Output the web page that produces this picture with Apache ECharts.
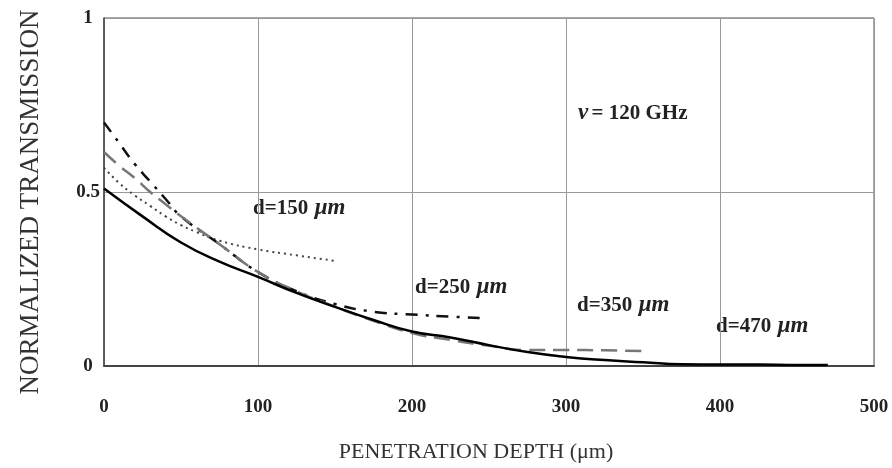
<!DOCTYPE html>
<html>
<head>
<meta charset="utf-8">
<script src="https://cdn.jsdelivr.net/npm/echarts@6/dist/echarts.min.js"></script>
<style>
  *{margin: 0; padding: 0;}
  html,body{width: 100%; height: 100%; background: #fff;}
  #chart{width: 892px; height: 468px;}
</style>
</head>
<body>
<div id="chart"></div>
<script>
// penetration depth (um) and normalized transmission, one pair of arrays per slab thickness
var depth150 = [0, 10, 20, 30, 40, 50, 60, 75, 100, 125, 150]
var trans150 = [0.57, 0.525, 0.49, 0.46, 0.43, 0.405, 0.385, 0.36, 0.335, 0.318, 0.302]

var depth250 = [0, 10, 20, 30, 40, 50, 75, 100, 125, 150, 175, 200, 225, 245]
var trans250 = [0.70, 0.64, 0.58, 0.53, 0.48, 0.43, 0.35, 0.27, 0.215, 0.178, 0.156, 0.148, 0.142, 0.138]

var depth350 = [0, 10, 20, 30, 40, 50, 75, 100, 125, 150, 175, 200, 225, 250, 275, 300, 325, 350]
var trans350 = [0.615, 0.575, 0.54, 0.50, 0.465, 0.43, 0.35, 0.27, 0.215, 0.17, 0.13, 0.095, 0.075, 0.058, 0.046, 0.046, 0.045, 0.043]

var depth470 = [0, 25, 50, 75, 100, 125, 150, 175, 200, 225, 250, 275, 300, 325, 350, 375, 400, 425, 450, 470]
var trans470 = [0.51, 0.43, 0.355, 0.30, 0.256, 0.21, 0.17, 0.132, 0.099, 0.082, 0.06, 0.04, 0.026, 0.017, 0.011, 0.005, 0.004, 0.004, 0.003, 0.003]

var xTicks = [0, 100, 200, 300, 400, 500]
var yTicks = [0, 0.5, 1]

var serif = '"Liberation Serif", "DejaVu Serif", serif'

function pairs(xs, ys) {
  var out = []
  for (var i = 0; i < xs.length; i++) {
    out.push([xs[i], ys[i]])
  }
  return out
}

function dLabel(text, left, top) {
  return {
    type: 'text',
    left: left,
    top: top,
    style: {
      text: '{a|' + text + '}  {b|μm}',
      rich: {
        a: { fontFamily: serif, fontWeight: 'bold', fontSize: 21, fill: '#222' },
        b: { fontFamily: serif, fontWeight: 'bold', fontStyle: 'italic', fontSize: 23, fill: '#222' }
      }
    }
  }
}

var chart = echarts.init(document.getElementById('chart'))
var options = {
  animation: false,
  grid: {
    left: 104,
    right: 18,
    top: 18,
    bottom: 102,
    show: true,
    borderColor: '#555',
    borderWidth: 1
  },
  xAxis: {
    type: 'value',
    min: xTicks[0],
    max: xTicks[xTicks.length - 1],
    interval: 100,
    name: 'PENETRATION DEPTH (μm)',
    nameLocation: 'middle',
    nameGap: 75,
    nameTextStyle: { fontFamily: serif, fontSize: 22, color: '#333', padding: [0, 26, 0, 0] },
    axisLine: { show: true, lineStyle: { color: '#444', width: 2 } },
    axisTick: { show: false },
    axisLabel: {
      margin: 32,
      fontFamily: serif,
      fontWeight: 'bold',
      fontSize: 19,
      color: '#222'
    },
    splitLine: { show: true, lineStyle: { color: '#999', width: 1 } }
  },
  yAxis: {
    type: 'value',
    min: yTicks[0],
    max: yTicks[yTicks.length - 1],
    interval: 0.5,
    name: 'NORMALIZED TRANSMISSION',
    nameLocation: 'middle',
    nameGap: 60,
    nameTextStyle: { fontFamily: serif, fontSize: 27, color: '#333', padding: [0, 20, 0, 0] },
    axisLine: { show: true, lineStyle: { color: '#444', width: 1.5 } },
    axisTick: { show: false },
    axisLabel: {
      margin: 16,
      align: 'center',
      fontFamily: serif,
      fontWeight: 'bold',
      fontSize: 19,
      color: '#222',
      formatter: function(v) { return String(v) }
    },
    splitLine: { show: true, lineStyle: { color: '#999', width: 1 } }
  },
  graphic: [
    {
      type: 'text',
      left: 578,
      top: 102,
      style: {
        text: '{n|ν} {a|= 120 GHz}',
        rich: {
          n: { fontFamily: serif, fontWeight: 'bold', fontStyle: 'italic', fontSize: 23, fill: '#222' },
          a: { fontFamily: serif, fontWeight: 'bold', fontSize: 21, fill: '#222' }
        }
      }
    },
    dLabel('d=150', 253, 197),
    dLabel('d=250', 415, 276),
    dLabel('d=350', 577, 294),
    dLabel('d=470', 716, 315)
  ],
  series: [
    {
      name: 'd=150',
      type: 'line',
      showSymbol: false,
      smooth: true,
      data: pairs(depth150, trans150),
      lineStyle: { color: '#444', width: 2, type: [2, 4] }
    },
    {
      name: 'd=250',
      type: 'line',
      showSymbol: false,
      smooth: true,
      data: pairs(depth250, trans250),
      lineStyle: { color: '#111', width: 2.5, type: [12, 8, 3, 8] }
    },
    {
      name: 'd=350',
      type: 'line',
      showSymbol: false,
      smooth: true,
      data: pairs(depth350, trans350),
      lineStyle: { color: '#777', width: 2.5, type: [16, 8] }
    },
    {
      name: 'd=470',
      type: 'line',
      showSymbol: false,
      smooth: true,
      data: pairs(depth470, trans470),
      lineStyle: { color: '#000', width: 2.5 }
    }
  ]
}
chart.setOption(options)
</script>
</body>
</html>
